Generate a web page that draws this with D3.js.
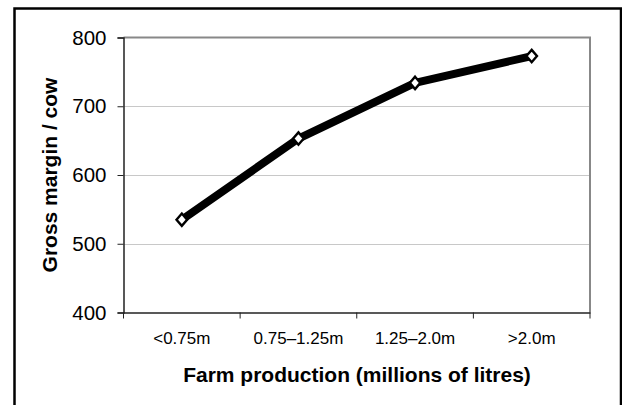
<!DOCTYPE html>
<html><head><meta charset="utf-8">
<script src="https://cdn.jsdelivr.net/npm/d3@7"></script>
<style>body{margin:0;background:#fff}svg{display:block}</style>
</head><body>
<script>
const categories = ["<0.75m", "0.75–1.25m", "1.25–2.0m", ">2.0m"];
const values = [535, 653, 734, 773];
const yTicks = [400, 500, 600, 700, 800];
const xTitle = "Farm production (millions of litres)";
const yTitle = "Gross margin / cow";

const W = 622, H = 405;
const m = {left: 123.5, right: 590, top: 37.5, bottom: 312.5};
const FONT = "Liberation Sans, Arial, sans-serif";
const svg = d3.select("body").append("svg").attr("width", W).attr("height", H);

// outer frame
svg.append("rect").attr("x", 14.5).attr("y", 8.5).attr("width", 606.5).attr("height", 410)
  .attr("fill", "none").attr("stroke", "#000").attr("stroke-width", 2.5);

const x = d3.scaleBand().domain(categories).range([m.left, m.right]);
const y = d3.scaleLinear().domain([400, 800]).range([m.bottom, m.top]);

// gridlines
svg.append("g").selectAll("line").data(yTicks.filter(t => t > 400 && t < 800)).join("line")
  .attr("x1", m.left).attr("x2", m.right)
  .attr("y1", d => Math.round(y(d)) + 0.5).attr("y2", d => Math.round(y(d)) + 0.5)
  .attr("stroke", "#c8c8c8").attr("stroke-width", 1);

// plot frame top/right (grey)
svg.append("path")
  .attr("d", `M${m.left},${m.top}H${m.right}V${m.bottom}`)
  .attr("fill", "none").attr("stroke", "#888").attr("stroke-width", 2);

// y axis
const yAxis = svg.append("g").attr("transform", `translate(${m.left},0)`)
  .call(d3.axisLeft(y).tickValues(yTicks).tickSize(6).tickPadding(11));
yAxis.select(".domain").attr("stroke", "#222").attr("stroke-width", 1.5);
yAxis.selectAll(".tick line").attr("stroke", "#222");
yAxis.selectAll("text").attr("font-family", FONT)
  .attr("font-size", 20.5).attr("fill", "#000");

// x axis
const xAxis = svg.append("g").attr("transform", `translate(0,${m.bottom})`)
  .call(d3.axisBottom(x).tickSize(0).tickPadding(19));
xAxis.select(".domain").attr("stroke", "#222").attr("stroke-width", 1.5);
xAxis.selectAll("text").attr("font-family", FONT)
  .attr("font-size", 17).attr("fill", "#000");
// category boundary ticks
const bounds = categories.map(c => x(c)).concat([x.range()[1]]);
svg.append("g").selectAll("line").data(bounds).join("line")
  .attr("x1", d => d).attr("x2", d => d)
  .attr("y1", m.bottom).attr("y2", m.bottom + 6)
  .attr("stroke", "#222").attr("stroke-width", 1);

// line
const line = d3.line().x((d, i) => x(categories[i]) + x.bandwidth() / 2).y(d => y(d));
svg.append("path").datum(values).attr("d", line)
  .attr("fill", "none").attr("stroke", "#000").attr("stroke-width", 8)
  .attr("stroke-linejoin", "round");

// markers (diamonds)
const diamond = "M0,-6.2L5.3,0L0,6.2L-5.3,0Z";
svg.append("g").selectAll("path").data(values).join("path")
  .attr("transform", (d, i) => `translate(${x(categories[i]) + x.bandwidth() / 2},${y(d)})`)
  .attr("d", diamond).attr("fill", "#fff").attr("stroke", "#000").attr("stroke-width", 2.4)
  .attr("stroke-linejoin", "miter");

// titles
svg.append("text").attr("x", 357).attr("y", 382)
  .attr("text-anchor", "middle").attr("font-family", FONT)
  .attr("font-weight", "bold").attr("font-size", 21).text(xTitle);
svg.append("text").attr("transform", `translate(57,175) rotate(-90)`)
  .attr("text-anchor", "middle").attr("font-family", FONT)
  .attr("font-weight", "bold").attr("font-size", 21).text(yTitle);
</script>
</body></html>
